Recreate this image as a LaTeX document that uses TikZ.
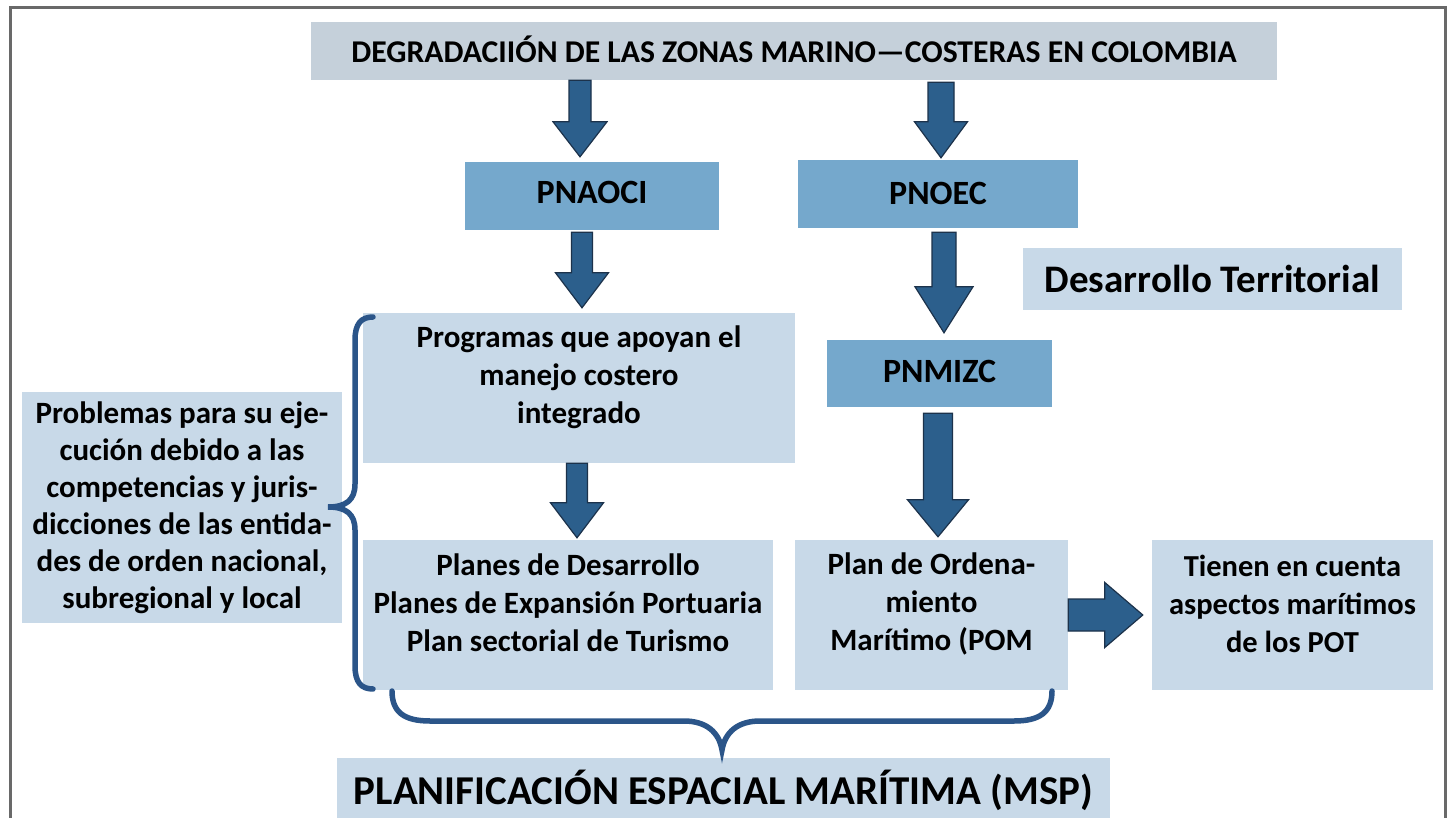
\documentclass[tikz,border=0pt]{standalone}
\usepackage{fontspec}
\setmainfont{Carlito}
\usetikzlibrary{calc}
\definecolor{lightbox}{RGB}{200,217,232}
\definecolor{graybox}{RGB}{197,208,218}
\definecolor{darkbox}{RGB}{117,168,204}
\definecolor{arrowfill}{RGB}{44,95,140}
\definecolor{arrowline}{RGB}{28,50,75}
\definecolor{bracecol}{RGB}{43,85,137}
\definecolor{framecol}{RGB}{105,105,105}
\newcommand{\fbody}{\fontsize{31}{38}\selectfont\bfseries}
\newcommand{\downblock}[5]{%
  \path[blockarrow] let \p1=#1, \p2=#2 in
    (\x1-#3pt,\y1) -- (\x1-#3pt,\y2+#5pt) -- (\x1-#4pt,\y2+#5pt) -- (\x1,\y2)
    -- (\x1+#4pt,\y2+#5pt) -- (\x1+#3pt,\y2+#5pt) -- (\x1+#3pt,\y1) -- cycle;}
\newcommand{\rightblock}[5]{%
  \path[blockarrow] let \p1=#1, \p2=#2 in
    (\x1,\y1+#3pt) -- (\x2-#5pt,\y1+#3pt) -- (\x2-#5pt,\y1+#4pt) -- (\x2,\y1)
    -- (\x2-#5pt,\y1-#4pt) -- (\x2-#5pt,\y1-#3pt) -- (\x1,\y1-#3pt) -- cycle;}
\begin{document}
\begin{tikzpicture}[x=1pt,y=-1pt,
  box/.style={rectangle, inner sep=0pt, align=center, font=\fbody, text=black},
  lbox/.style={box, fill=lightbox},
  tribox/.style={lbox, text depth=25pt},
  gbox/.style={box, fill=graybox},
  dbox/.style={box, fill=darkbox, font=\fontsize{34}{40}\selectfont\bfseries},
  blockarrow/.style={fill=arrowfill, draw=arrowline, line width=1.2pt, line join=miter},
  bracestyle/.style={draw=bracecol, line width=5.5pt, line cap=round}]
\useasboundingbox (0,0) rectangle (1453,818);
\fill[white] (0,0) rectangle (1453,818);
% frame
\draw[framecol, line width=3pt] (10,830) -- (10,8) -- (1445,8) -- (1445,830);

% boxes
\node[gbox, minimum width=966pt, minimum height=58pt, text depth=4pt, font=\fontsize{31.7}{38}\selectfont\bfseries] (top) at (794,51) {DEGRADACIIÓN DE LAS ZONAS MARINO—COSTERAS EN COLOMBIA};
\node[dbox, minimum width=254pt, minimum height=68pt, text depth=8pt] (pnaoci) at (592,196) {PNAOCI};
\node[dbox, minimum width=280pt, minimum height=68pt, text depth=2pt] (pnoec) at (938,194) {PNOEC};
\node[lbox, minimum width=379pt, minimum height=62pt, font=\fontsize{39}{45}\selectfont\bfseries] (desa) at (1212.5,279) {Desarrollo Territorial};
\node[tribox, minimum width=432pt, minimum height=150pt, text depth=26pt] (prog) at (579,388) {Programas que apoyan el\\manejo costero\\integrado};
\node[dbox, minimum width=225pt, minimum height=67pt, text depth=4pt] (pnmizc) at (939.5,373.5) {PNMIZC};
\node[lbox, minimum width=320pt, minimum height=231pt, font=\fontsize{31}{37}\selectfont\bfseries] (prob) at (182,507.5) {Problemas para su eje-\\cución debido a las\\competencias y juris-\\dicciones de las entida-\\des de orden nacional,\\subregional y local};
\node[tribox, minimum width=410pt, minimum height=150pt] (planes) at (568,615) {Planes de Desarrollo\\Planes de Expansión Portuaria\\Plan sectorial de Turismo};
\node[tribox, minimum width=273pt, minimum height=150pt, text depth=27pt] (pom) at (931.5,615) {Plan de Ordena-\\miento\\Marítimo (POM};
\node[tribox, minimum width=281pt, minimum height=150pt, text depth=22pt, font=\fontsize{30.5}{38}\selectfont\bfseries] (tienen) at (1292.5,615) {Tienen en cuenta\\aspectos marítimos\\de los POT};
\node[lbox, minimum width=773pt, minimum height=64pt, font=\fontsize{41}{47}\selectfont\bfseries] (msp) at (723.5,790) {PLANIFICACIÓN ESPACIAL MARÍTIMA (MSP)};

% block arrows
\downblock{(top.south -| 580,0)}{($(pnaoci.north -| 580,0)+(0,-5)$)}{11}{27}{35}
\downblock{($(pnaoci.south -| 582,0)+(0,2)$)}{($(prog.north -| 582,0)+(0,-5)$)}{10.5}{26.5}{35}
\downblock{(prog.south -| 577,0)}{($(planes.north -| 577,0)+(0,-2)$)}{10.5}{26.5}{35}
\downblock{($(top.south -| 941,0)+(0,2)$)}{($(pnoec.north -| 941,0)+(0,-2)$)}{13}{26.5}{36}
\downblock{($(pnoec.south -| 944,0)+(0,4)$)}{($(pnmizc.north -| 944,0)+(0,-7)$)}{12}{29}{46}
\downblock{($(pnmizc.south -| 938,0)+(0,6)$)}{($(pom.north -| 938,0)+(0,-3)$)}{14.5}{30.5}{37}
\rightblock{(pom.east)}{($(tienen.west)+(-9,0)$)}{16}{32.5}{38}

% braces
\draw[bracestyle] (373,317) .. controls (361,317) and (355,324) .. (355,340)
  -- (355,484) .. controls (355,500) and (346,507) .. (328,507)
  .. controls (346,507) and (355,514) .. (355,530)
  -- (355,666) .. controls (355,682) and (361,689) .. (373,689);
\draw[bracestyle] (392,691) .. controls (392,712) and (404,721) .. (430,721)
  -- (684,721) .. controls (706,721) and (719,732) .. (722,750)
  .. controls (725,732) and (738,721) .. (760,721)
  -- (1014,721) .. controls (1040,721) and (1052,712) .. (1052,691);
\end{tikzpicture}
\end{document}
